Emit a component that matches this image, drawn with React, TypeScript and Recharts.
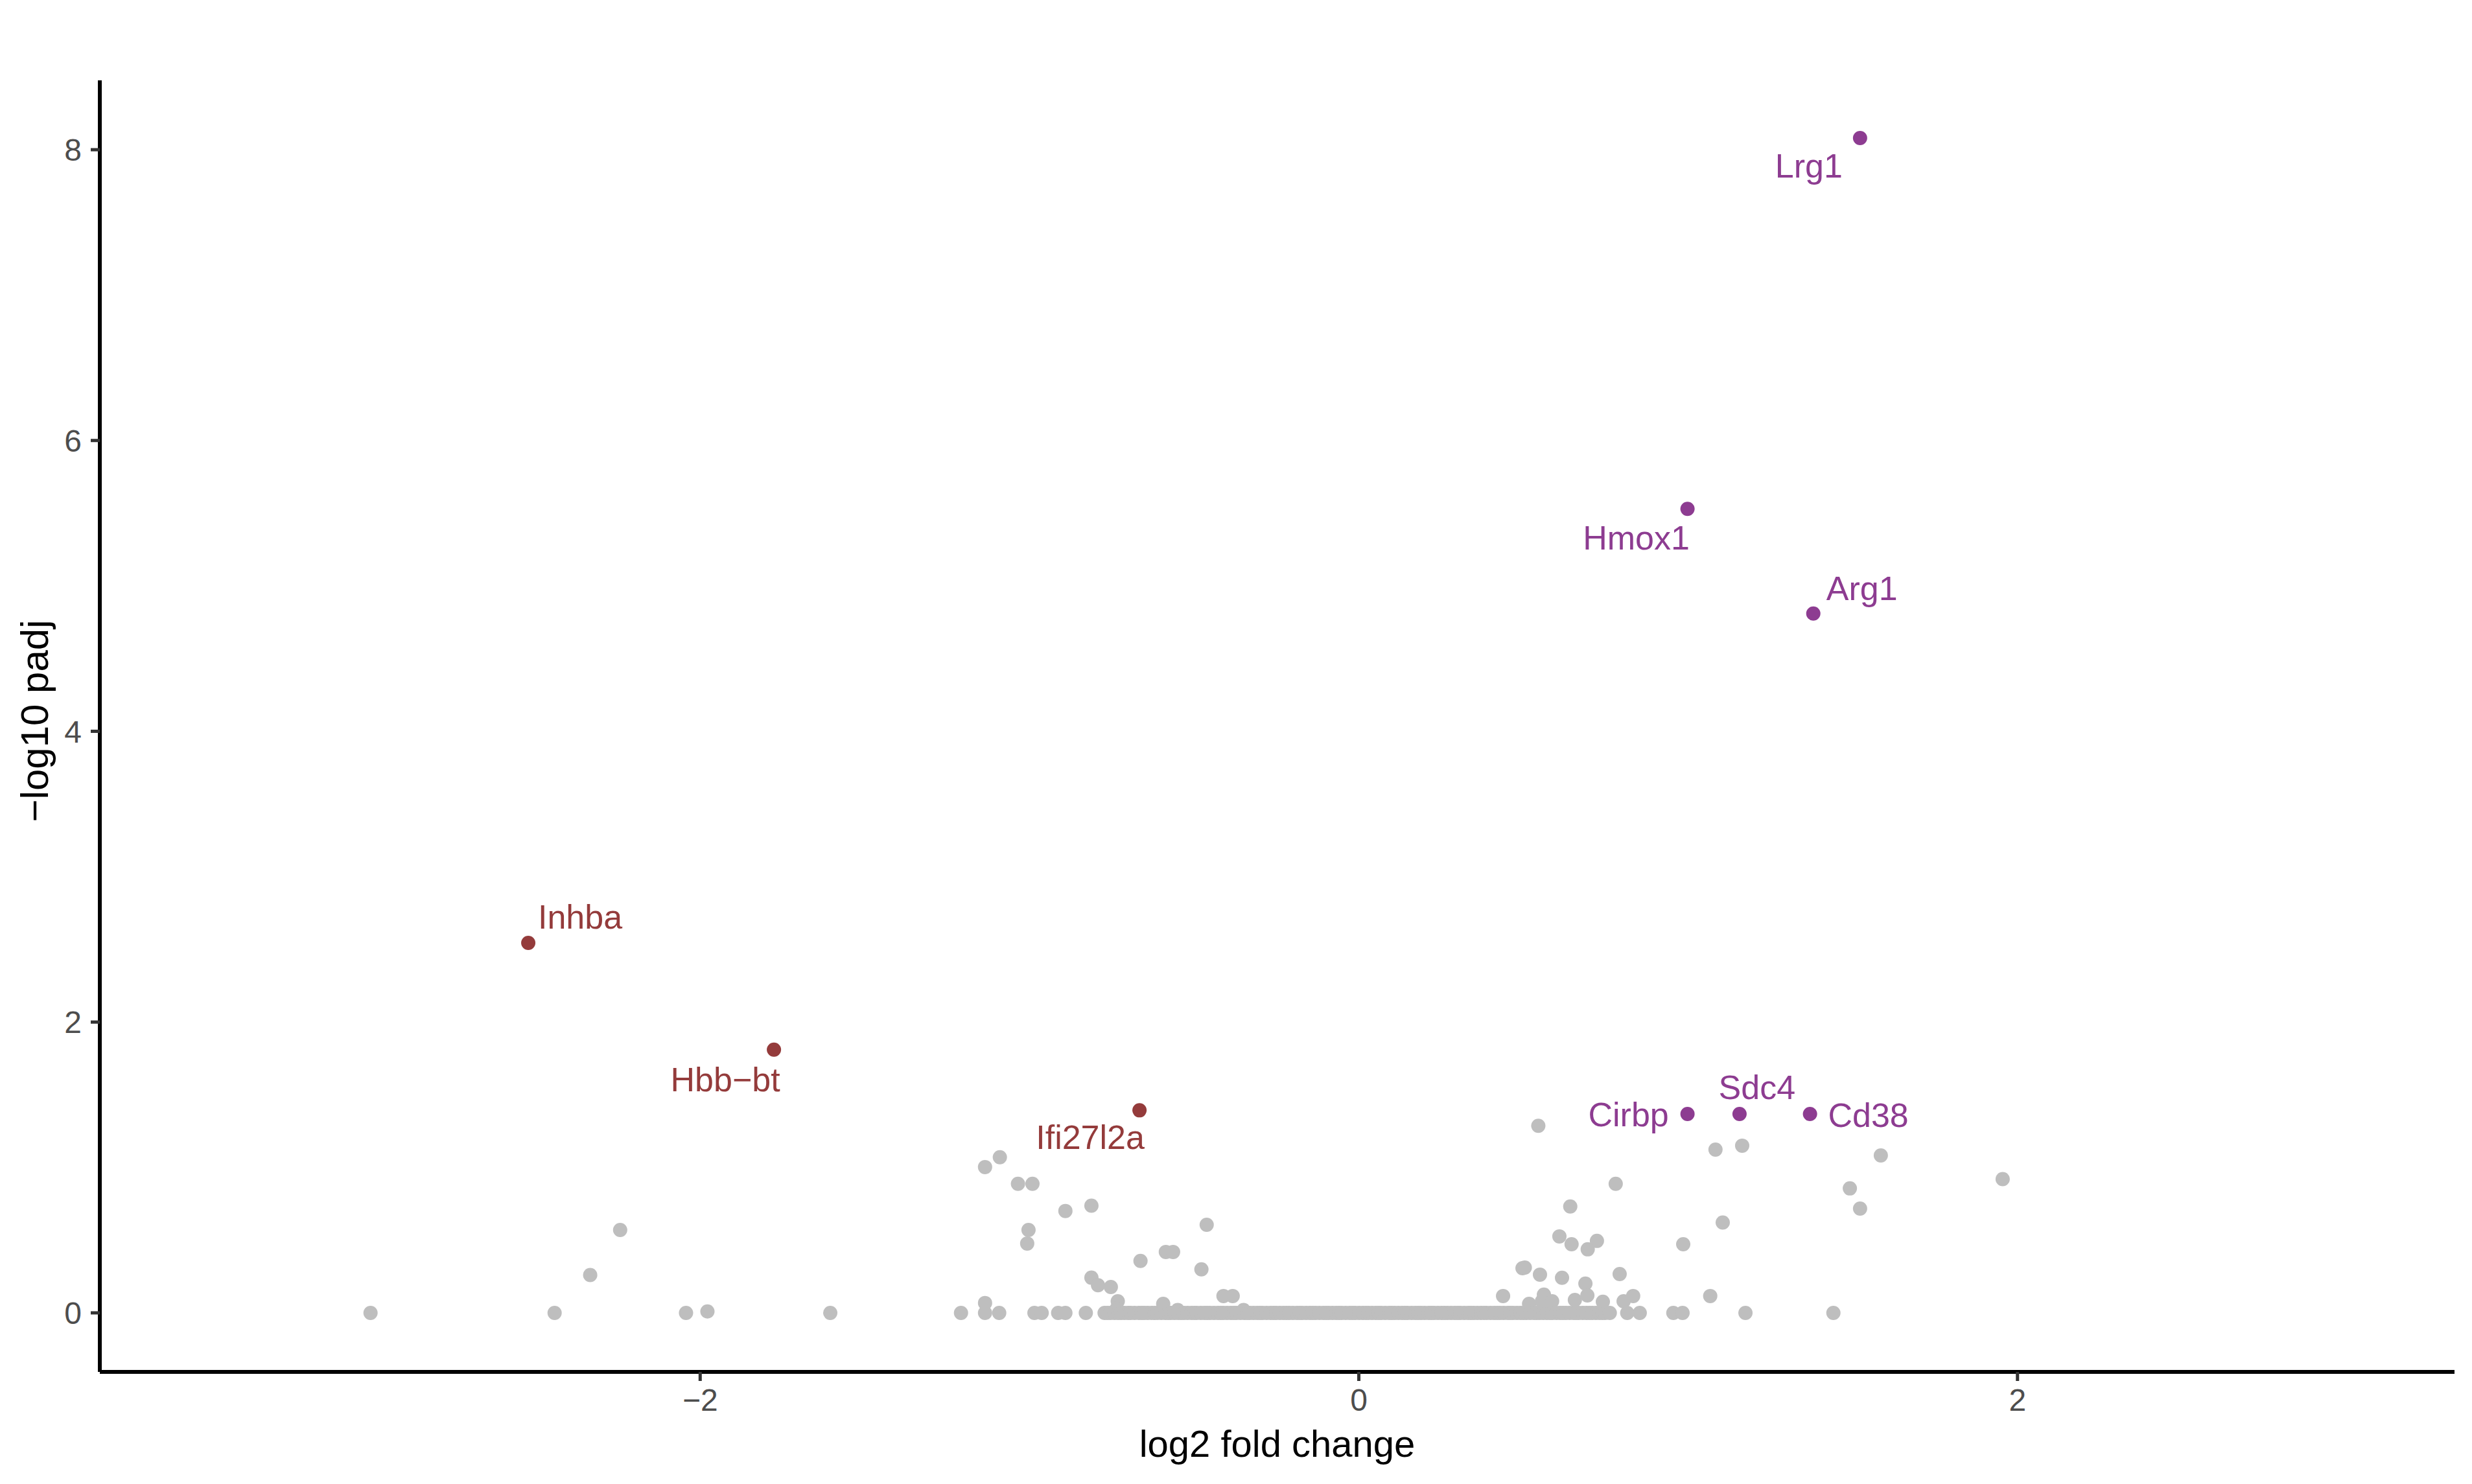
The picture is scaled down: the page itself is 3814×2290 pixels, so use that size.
import { ScatterChart, Scatter, XAxis, YAxis } from "recharts";

// scattered non-significant genes: [log2 fold change, -log10 padj]
const greyPoints: [number, number][] = [
  [-3.001, 0], [-2.442, 0], [-2.043, 0], [-1.978, 0.01], [-1.605, 0],
  [-1.208, 0], [-1.135, 0], [-1.135, 0.068], [-1.092, 0], [-0.985, 0],
  [-0.963, 0], [-0.913, 0], [-0.891, 0], [-0.829, 0],
  [-2.243, 0.57], [-2.334, 0.26],
  [-1.09, 1.07], [-1.135, 1.003], [-1.035, 0.888], [-0.991, 0.888],
  [-0.891, 0.701], [-0.812, 0.737], [-1.003, 0.57], [-1.007, 0.477],
  [-0.812, 0.242], [-0.792, 0.19], [-0.753, 0.178], [-0.663, 0.357],
  [-0.586, 0.419], [-0.564, 0.419], [-0.478, 0.299], [-0.462, 0.606],
  [-0.411, 0.116], [-0.383, 0.116], [-0.732, 0.08], [-0.594, 0.062],
  [-0.735, 0.03], [-0.55, 0.02], [-0.35, 0.02],
  [0.545, 1.287], [1.083, 1.123], [1.164, 1.15], [0.78, 0.888],
  [0.642, 0.732], [1.105, 0.621], [0.609, 0.526], [0.646, 0.472],
  [0.723, 0.495], [0.695, 0.437], [0.985, 0.472], [0.497, 0.307],
  [0.504, 0.312], [0.55, 0.263], [0.617, 0.241], [0.688, 0.201],
  [0.792, 0.267], [0.438, 0.116], [0.562, 0.125], [0.517, 0.062],
  [0.556, 0.08], [0.587, 0.08], [0.656, 0.089], [0.694, 0.12],
  [0.741, 0.076], [0.804, 0.08], [0.833, 0.116], [1.067, 0.116],
  [1.585, 1.083], [1.955, 0.92], [1.491, 0.856], [1.522, 0.717],
  [0.815, 0], [0.853, 0], [0.955, 0], [0.983, 0], [1.174, 0], [1.441, 0],
];

// the dense row of genes sitting at padj ~ 1
const baselineFc: number[] = [
  -0.772, -0.763, -0.754, -0.742, -0.731, -0.722, -0.712, -0.701, -0.693, -0.681,
  -0.668, -0.659, -0.651, -0.641, -0.629, -0.62, -0.612, -0.6, -0.588, -0.579,
  -0.571, -0.56, -0.549, -0.54, -0.531, -0.52, -0.508, -0.499, -0.492, -0.48,
  -0.469, -0.461, -0.452, -0.44, -0.428, -0.419, -0.411, -0.4, -0.389, -0.38,
  -0.372, -0.36, -0.348, -0.339, -0.331, -0.32, -0.309, -0.3, -0.292, -0.28,
  -0.268, -0.259, -0.251, -0.24, -0.229, -0.22, -0.211, -0.2, -0.188, -0.179,
  -0.172, -0.16, -0.149, -0.14, -0.131, -0.12, -0.108, -0.099, -0.091, -0.08,
  -0.069, -0.06, -0.052, -0.04, -0.028, -0.019, -0.011, 0.001, 0.012, 0.021,
  0.029, 0.04, 0.051, 0.06, 0.068, 0.08, 0.092, 0.1, 0.109, 0.12,
  0.131, 0.14, 0.148, 0.16, 0.171, 0.18, 0.189, 0.2, 0.212, 0.22,
  0.228, 0.24, 0.251, 0.26, 0.269, 0.28, 0.291, 0.3, 0.308, 0.32,
  0.332, 0.34, 0.349, 0.36, 0.371, 0.38, 0.388, 0.4, 0.411, 0.42,
  0.429, 0.44, 0.452, 0.46, 0.468, 0.48, 0.491, 0.5, 0.509, 0.52,
  0.532, 0.54, 0.549, 0.56, 0.571, 0.58, 0.588, 0.6, 0.611, 0.62,
  0.629, 0.64, 0.652, 0.66, 0.668, 0.68, 0.691, 0.7, 0.709, 0.72,
  0.731, 0.74, 0.748, 0.762,
];

const upGenes = ["Lrg1", "Hmox1", "Arg1", "Cirbp", "Sdc4", "Cd38"];
const upFc = [1.522, 0.998, 1.38, 0.998, 1.156, 1.37];
const upPadj = [8.08, 5.53, 4.81, 1.368, 1.368, 1.368];

const downGenes = ["Inhba", "Hbb\u2212bt", "Ifi27l2a"];
const downFc = [-2.522, -1.776, -0.666];
const downPadj = [2.545, 1.81, 1.393];

const xTicks = [-2, 0, 2];
const yTicks = [0, 2, 4, 6, 8];

// where ggrepel put each label, relative to its point (px): [dx centre, dy baseline]
const labelNudge: Record<string, [number, number]> = {
  Lrg1: [-79, 61],
  Hmox1: [-79, 63],
  Arg1: [75, -21],
  Cirbp: [-91, 19],
  Sdc4: [27, -23],
  Cd38: [90, 20],
  Inhba: [80, -22],
  "Hbb\u2212bt": [-75, 64],
  Ifi27l2a: [-76, 60],
};

const greyData = [
  ...greyPoints.map(([x, y]) => ({ x, y })),
  ...baselineFc.map((x) => ({ x, y: 0 })),
];
const upData = upGenes.map((gene, i) => ({ gene, x: upFc[i], y: upPadj[i] }));
const downData = downGenes.map((gene, i) => ({ gene, x: downFc[i], y: downPadj[i] }));

const FONT = "'Liberation Sans', Arial, Helvetica, sans-serif";
const GREY = "#BEBEBE";
const PURPLE = "#8D3C91";
const RED = "#943B3B";

const makeDot = (color: string) => (props: any) => {
  const { cx, cy, payload } = props;
  const nudge = payload && payload.gene ? labelNudge[payload.gene] : null;
  return (
    <g>
      <circle cx={cx} cy={cy} r={11} fill={color} />
      {nudge && (
        <text
          x={cx + nudge[0]}
          y={cy + nudge[1]}
          textAnchor="middle"
          fontSize={52}
          fontFamily={FONT}
          fill={color}
        >
          {payload.gene}
        </text>
      )}
    </g>
  );
};

const minus = (v: number) => String(v).replace("-", "\u2212");

export default function App() {
  return (
    <div
      style={{
        position: "absolute",
        left: 0,
        top: 0,
        width: 3814,
        height: 2290,
        background: "#fff",
      }}
    >
      <ScatterChart
        width={3814}
        height={2290}
        margin={{ top: 124, right: 27, left: 54, bottom: 73 }}
      >
        <XAxis
          type="number"
          dataKey="x"
          domain={[-3.823, 3.327]}
          allowDataOverflow
          ticks={xTicks}
          tickFormatter={minus}
          height={100}
          axisLine={{ stroke: "#000", strokeWidth: 6 }}
          tickLine={{ stroke: "#333", strokeWidth: 5 }}
          tickSize={14}
          tickMargin={12}
          tick={{ fill: "#4D4D4D", fontSize: 48, fontFamily: FONT }}
          label={{
            content: (p: any) => {
              const vb = p.viewBox;
              return (
                <text
                  x={vb.x + vb.width / 2}
                  y={vb.y + 131}
                  textAnchor="middle"
                  fontSize={58}
                  fontFamily={FONT}
                  fill="#000"
                >
                  log2 fold change
                </text>
              );
            },
          }}
        />
        <YAxis
          type="number"
          dataKey="y"
          domain={[-0.406, 8.477]}
          allowDataOverflow
          ticks={yTicks}
          width={100}
          axisLine={{ stroke: "#000", strokeWidth: 6 }}
          tickLine={{ stroke: "#333", strokeWidth: 5 }}
          tickSize={14}
          tickMargin={14}
          tick={{ fill: "#4D4D4D", fontSize: 48, fontFamily: FONT }}
          label={{
            content: (p: any) => {
              const vb = p.viewBox;
              const tx = vb.x + 20;
              const ty = vb.y + vb.height / 2 - 8;
              return (
                <text
                  x={tx}
                  y={ty}
                  transform={`rotate(-90 ${tx} ${ty})`}
                  textAnchor="middle"
                  fontSize={60}
                  fontFamily={FONT}
                  fill="#000"
                >
                  {"\u2212log10 padj"}
                </text>
              );
            },
          }}
        />
        <Scatter data={greyData} shape={makeDot(GREY)} isAnimationActive={false} />
        <Scatter data={downData} shape={makeDot(RED)} isAnimationActive={false} />
        <Scatter data={upData} shape={makeDot(PURPLE)} isAnimationActive={false} />
      </ScatterChart>
    </div>
  );
}
